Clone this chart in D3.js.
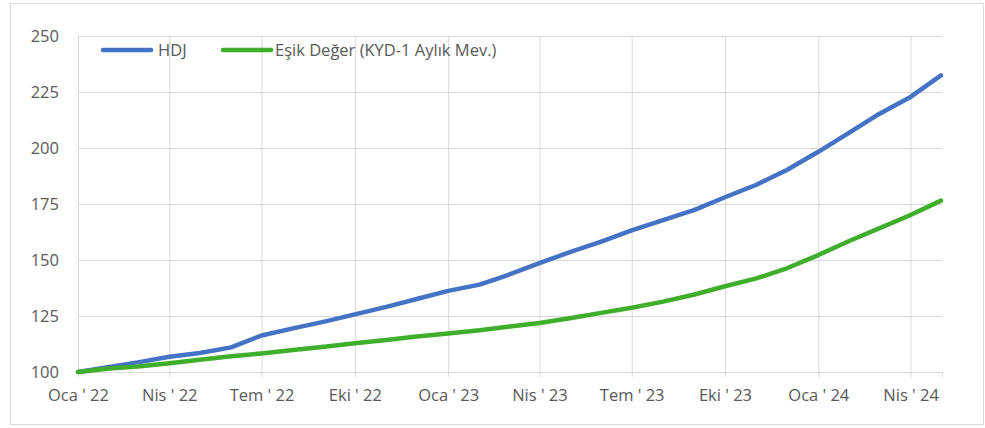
<!DOCTYPE html>
<html>
<head>
<meta charset="utf-8">
<script src="https://cdn.jsdelivr.net/npm/d3@7"></script>
<style>
  body { margin: 0; background: #fff; }
  #chart text { font-family: "Open Sans", "Noto Sans", sans-serif; fill: #595959; }
</style>
</head>
<body>
<div id="chart"></div>
<script>
// monthly readings, first of each month
const dates = ["2022-01-01","2022-02-01","2022-03-01","2022-04-01","2022-05-01","2022-06-01",
  "2022-07-01","2022-08-01","2022-09-01","2022-10-01","2022-11-01","2022-12-01",
  "2023-01-01","2023-02-01","2023-03-01","2023-04-01","2023-05-01","2023-06-01",
  "2023-07-01","2023-08-01","2023-09-01","2023-10-01","2023-11-01","2023-12-01",
  "2024-01-01","2024-02-01","2024-03-01","2024-04-01","2024-05-01"];
const hdj = [100, 102.3, 104.3, 106.8, 108.5, 111, 116.3, 119.5, 122.5, 125.7, 129.1, 132.6,
  136.2, 139, 143.3, 148.6, 153.5, 158.2, 163.2, 167.8, 172.4, 178, 183.6, 190.2,
  198.3, 207, 215.2, 222.8, 232.4];
const esik = [100, 101.6, 102.5, 103.9, 105.5, 107, 108.3, 109.8, 111.3, 112.8, 114.3, 115.8,
  117.2, 118.6, 120.2, 121.9, 124, 126.4, 128.7, 131.4, 134.6, 138.3, 141.8, 146.3,
  152.2, 158.6, 164.1, 170.1, 176.5];
const seriesNames = ["HDJ", "Eşik Değer (KYD-1 Aylık Mev.)"];
const seriesColors = ["#4472c4", "#3fae2a"];
const yTicks = [100, 125, 150, 175, 200, 225, 250];
const monthNames = ["Oca","Şub","Mar","Nis","May","Haz","Tem","Ağu","Eyl","Eki","Kas","Ara"];

let width = 985, height = 428;
let m = { left: 78, right: 942, top: 36, bottom: 372 };
let parse = d3.utcParse("%Y-%m-%d");
let days = dates.map(parse);

let svg = d3.select("#chart").append("svg")
  .attr("width", width)
  .attr("height", height);

svg.append("rect")
  .attr("x", 10.5).attr("y", 3.5)
  .attr("width", 973).attr("height", 421)
  .style("fill", "#fff")
  .style("stroke", "#d9d9d9");

let x = d3.scaleUtc()
  .domain([parse("2022-01-01"), parse("2024-05-02")])
  .range([m.left, m.right]);
let y = d3.scaleLinear()
  .domain([100, 250])
  .range([m.bottom, m.top]);

// horizontal grid + y labels
let ya = svg.append("g")
  .attr("transform", "translate(" + m.left + ",0)")
  .call(d3.axisLeft(y).tickValues(yTicks).tickSize(-(m.right - m.left)).tickPadding(19));
ya.select(".domain").remove();
ya.selectAll("line").style("stroke", "#d9d9d9");
ya.selectAll("text").style("font-size", "16.5px");

// vertical grid + x labels
let xa = svg.append("g")
  .attr("transform", "translate(0," + m.bottom + ")")
  .call(d3.axisBottom(x)
    .ticks(d3.utcMonth.every(3))
    .tickSize(5)
    .tickPadding(12)
    .tickFormat(d => monthNames[d.getUTCMonth()] + " ' " + d3.utcFormat("%y")(d)));
xa.select(".domain").style("stroke", "#d9d9d9");
xa.selectAll("line")
  .attr("y1", -(m.bottom - m.top))
  .style("stroke", "#d9d9d9");
xa.selectAll("text").style("font-size", "16.5px");

let line = d3.line()
  .x((d, i) => x(days[i]))
  .y(d => y(d));

[hdj, esik].forEach((s, k) => {
  svg.append("path")
    .datum(s)
    .attr("d", line)
    .style("fill", "none")
    .style("stroke", seriesColors[k])
    .style("stroke-width", 4.5)
    .style("stroke-linejoin", "round")
    .style("stroke-linecap", "round");
});

// legend
let legendX = [103, 223];
let lg = svg.selectAll(".legend")
  .data(seriesNames)
  .enter()
  .append("g")
  .attr("class", "legend")
  .attr("transform", (d, i) => "translate(" + legendX[i] + ",50)");
lg.append("line")
  .attr("x1", 0).attr("x2", 48)
  .style("stroke", (d, i) => seriesColors[i])
  .style("stroke-width", 4.5)
  .style("stroke-linecap", "round");
lg.append("text")
  .attr("x", (d, i) => i ? 52 : 55)
  .attr("dy", "0.35em")
  .style("font-size", "16.5px")
  .text(d => d);
</script>
</body>
</html>
